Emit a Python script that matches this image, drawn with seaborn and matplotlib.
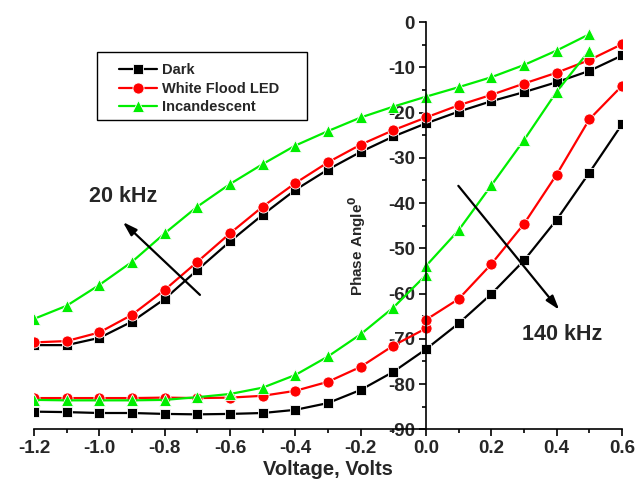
import numpy as np
import pandas as pd
import matplotlib
matplotlib.use("Agg")
import matplotlib.pyplot as plt
from matplotlib.ticker import MultipleLocator
from matplotlib.patches import Rectangle
import seaborn as sns

sns.set_theme(style="white")
plt.rcParams['font.family'] = ['Liberation Sans', 'DejaVu Sans']
plt.rcParams['font.weight'] = 'bold'
plt.rcParams['mathtext.default'] = 'bf'

# 20 kHz data
v20 = [-1.2, -1.1, -1.0, -0.9, -0.8, -0.7, -0.6, -0.5, -0.4, -0.3, -0.2, -0.1, 0.0, 0.1, 0.2, 0.3, 0.4, 0.5, 0.6]
dark20 = [-71.4, -71.4, -69.8, -66.2, -61.2, -54.8, -48.5, -42.6, -37.1, -32.6, -28.7, -25.3, -22.4, -19.8, -17.5, -15.5, -13.3, -10.8, -7.4]
led20 = [-70.8, -70.5, -68.6, -64.7, -59.2, -53.0, -46.7, -40.8, -35.6, -31.0, -27.1, -23.9, -21.1, -18.4, -16.1, -13.6, -11.2, -8.4, -4.9]
v20g = [-1.2, -1.1, -1.0, -0.9, -0.8, -0.7, -0.6, -0.5, -0.4, -0.3, -0.2, -0.1, 0.0, 0.1, 0.2, 0.3, 0.4, 0.5]
inc20 = [-65.6, -62.7, -58.1, -53.0, -46.7, -40.8, -35.8, -31.4, -27.3, -24.1, -21.1, -18.7, -16.5, -14.4, -12.2, -9.5, -6.3, -2.7]

# 140 kHz data
v140k = [-1.2, -1.1, -1.0, -0.9, -0.8, -0.7, -0.6, -0.5, -0.4, -0.3, -0.2, -0.1, 0.0, 0.1, 0.2, 0.3, 0.4, 0.5, 0.6]
dark140 = [-86.1, -86.2, -86.4, -86.4, -86.6, -86.7, -86.6, -86.4, -85.7, -84.2, -81.3, -77.3, -72.3, -66.6, -60.1, -52.7, -43.7, -33.3, -22.6]
v140r = [-1.2, -1.1, -1.0, -0.9, -0.8, -0.7, -0.6, -0.5, -0.4, -0.3, -0.2, -0.1, 0.0, 0.0, 0.1, 0.2, 0.3, 0.4, 0.5, 0.6]
led140 = [-83.1, -83.1, -83.1, -83.1, -83.0, -83.1, -83.0, -82.6, -81.5, -79.5, -76.2, -71.5, -67.7, -65.8, -61.2, -53.5, -44.6, -33.7, -21.5, -14.1]
v140g = [-1.2, -1.1, -1.0, -0.9, -0.8, -0.7, -0.6, -0.5, -0.4, -0.3, -0.2, -0.1, 0.0, 0.0, 0.1, 0.2, 0.3, 0.4, 0.5]
inc140 = [-83.5, -83.6, -83.6, -83.6, -83.5, -82.9, -82.2, -80.8, -78.0, -73.9, -69.0, -63.1, -55.9, -53.9, -46.0, -36.1, -26.1, -15.4, -6.3]

labels = ["Dark", "White Flood LED", "Incandescent"]
colors = ["#000000", "#ff0000", "#00ee00"]
markers = ["s", "o", "^"]
msizes = [6.8, 8.0, 8.5]

W, H = 641, 490
fig = plt.figure(figsize=(W/100, H/100), dpi=100)
ax = fig.add_axes([34/W, 1-429.3/H, (622-34)/W, (429.3-22)/H])

series = [
    (v20, dark20, 0, True), (v20, led20, 1, True), (v20g, inc20, 2, True),
    (v140k, dark140, 0, False), (v140r, led140, 1, False), (v140g, inc140, 2, False),
]
for x, y, ci, lab in series:
    df = pd.DataFrame({"V": x, "P": y})
    sns.lineplot(data=df, x="V", y="P", ax=ax, estimator=None, sort=False,
                 color=colors[ci], marker=markers[ci], markersize=msizes[ci],
                 markeredgecolor='white', markeredgewidth=0.6, linewidth=1.6,
                 label=labels[ci] if lab else None, legend=False)

ax.set_xlim(-1.2, 0.6)
ax.set_ylim(-90, 0)
ax.spines['left'].set_position(('data', 0))
ax.spines['right'].set_visible(False)
ax.spines['top'].set_visible(False)
for s in ['left', 'bottom']:
    ax.spines[s].set_color('black')
    ax.spines[s].set_linewidth(1.2)

ax.xaxis.set_major_locator(MultipleLocator(0.2))
ax.xaxis.set_minor_locator(MultipleLocator(0.1))
ax.yaxis.set_major_locator(MultipleLocator(10))
ax.yaxis.set_minor_locator(MultipleLocator(5))
ax.tick_params(which='major', direction='out', length=5, width=1.2, color='black',
               labelsize=13.5, bottom=True, left=True, pad=3)
ax.tick_params(which='minor', direction='out', length=3, width=1.2, color='black',
               bottom=True, left=True)
ax.set_xticklabels([f"{t:.1f}" for t in ax.get_xticks()], fontweight='bold')
ax.set_yticklabels([f"{int(t)}" for t in ax.get_yticks()], fontweight='bold')

ax.set_xlabel("Voltage, Volts", fontsize=14.5, fontweight='bold', labelpad=2)
ax.set_ylabel("")
ax.text(-0.21, -49.5, r"Phase Angle$^\mathbf{0}$", rotation=90, ha='center', va='center',
        fontsize=11, fontweight='bold')

arrow = dict(arrowstyle='-|>,head_length=0.7,head_width=0.22', color='black', lw=1.6,
             shrinkA=0, shrinkB=0)
ax.annotate("", xy=(-0.928, -44.2), xytext=(-0.692, -60.3), arrowprops=arrow)
ax.annotate("", xy=(0.408, -63.6), xytext=(0.099, -36.2), arrowprops=arrow)
ax.text(-0.928, -38.6, "20 kHz", ha='center', va='center', fontsize=15.5, fontweight='bold')
ax.text(0.418, -69.0, "140 kHz", ha='center', va='center', fontsize=15.5, fontweight='bold')

leg = ax.legend(loc='upper left', bbox_to_anchor=(119/W, 1-63/H),
                bbox_transform=fig.transFigure, borderaxespad=0,
                handlelength=2.6, handletextpad=0.35, frameon=False,
                labelspacing=0.32, borderpad=0,
                prop={'weight': 'bold', 'size': 10.5})
fig.add_artist(Rectangle((97/W, 1-120/H), (307-97)/W, (120-52)/H,
                         transform=fig.transFigure, fill=False,
                         edgecolor='black', linewidth=1.0, zorder=5))

fig.savefig("out.png", dpi=100)
